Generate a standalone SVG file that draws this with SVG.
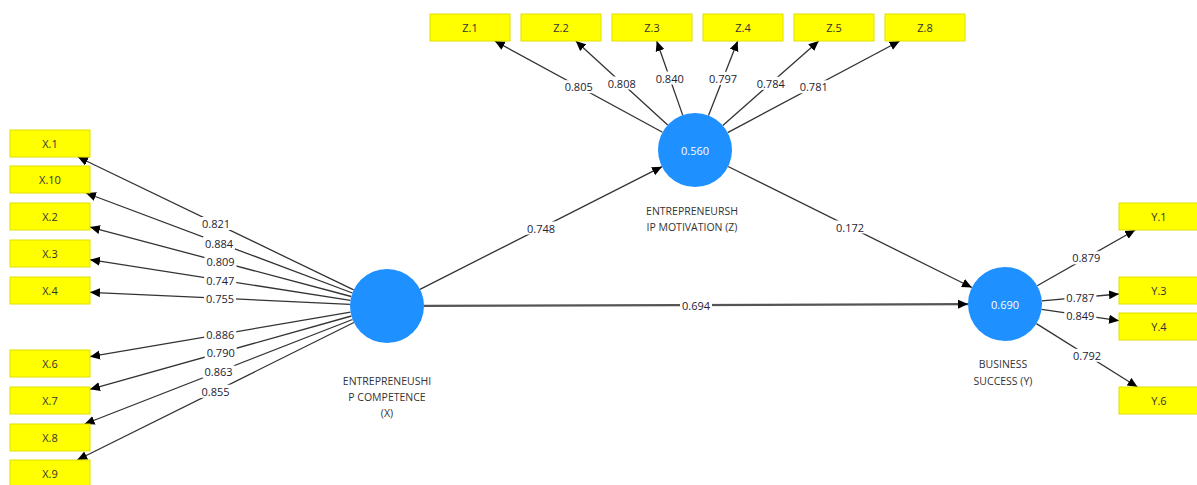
<svg xmlns="http://www.w3.org/2000/svg" width="1197" height="485" viewBox="0 0 1197 485">
<style>
.ln{stroke:#333;stroke-width:1.3;fill:none}
.lnb{stroke:#555;stroke-width:2.2;fill:none}
.box{fill:#ffff00;stroke:#e0e000;stroke-width:1}
.bt{font-family:"Open Sans","Noto Sans",sans-serif;font-size:11px;fill:#333;text-anchor:middle;dominant-baseline:central}
.lv{font-family:"Open Sans","Noto Sans",sans-serif;font-size:11px;fill:#223;text-anchor:middle;dominant-baseline:central}
.lb{fill:#fff}
.cir{fill:#1e90ff}
.cv{font-family:"Open Sans","Noto Sans",sans-serif;font-size:11px;fill:#fff;text-anchor:middle;dominant-baseline:central}
.nl{font-family:"Open Sans","Noto Sans",sans-serif;font-size:10.5px;fill:#333;text-anchor:middle}
</style>
<defs>
<marker id="ah" markerUnits="userSpaceOnUse" markerWidth="11" markerHeight="10" refX="10" refY="5" orient="auto">
<path d="M0,0.5 L10,5 L0,9.5 z" fill="#000"/>
</marker>
</defs>
<rect width="1197" height="485" fill="#fff"/>
<g id="connectors">
<line class="ln" x1="353.7" y1="289.9" x2="78" y2="157" marker-end="url(#ah)"/>
<line class="ln" x1="352.4" y1="293" x2="86" y2="193" marker-end="url(#ah)"/>
<line class="ln" x1="351.2" y1="296.5" x2="90" y2="227.1" marker-end="url(#ah)"/>
<line class="ln" x1="350.4" y1="300.3" x2="90" y2="259.7" marker-end="url(#ah)"/>
<line class="ln" x1="350" y1="304.3" x2="90" y2="292.3" marker-end="url(#ah)"/>
<line class="ln" x1="350.5" y1="312.2" x2="90" y2="356.7" marker-end="url(#ah)"/>
<line class="ln" x1="351.4" y1="316" x2="90" y2="389.3" marker-end="url(#ah)"/>
<line class="ln" x1="352.5" y1="319.5" x2="84.6" y2="424" marker-end="url(#ah)"/>
<line class="ln" x1="353.9" y1="322.5" x2="77.2" y2="460" marker-end="url(#ah)"/>
<line class="ln" x1="662.5" y1="132.3" x2="494.8" y2="41" marker-end="url(#ah)"/>
<line class="ln" x1="667.7" y1="125" x2="575.8" y2="41" marker-end="url(#ah)"/>
<line class="ln" x1="682.7" y1="115.1" x2="656.7" y2="41" marker-end="url(#ah)"/>
<line class="ln" x1="708.5" y1="115.6" x2="737.7" y2="41" marker-end="url(#ah)"/>
<line class="ln" x1="722.8" y1="125.5" x2="818.7" y2="41" marker-end="url(#ah)"/>
<line class="ln" x1="727.7" y1="132.6" x2="899.7" y2="41" marker-end="url(#ah)"/>
<line class="ln" x1="420" y1="289.3" x2="662" y2="166.7" marker-end="url(#ah)"/>
<line class="lnb" x1="424" y1="305.9" x2="968" y2="304.1" marker-end="url(#ah)"/>
<line class="ln" x1="728.1" y1="166.5" x2="971.9" y2="287.5" marker-end="url(#ah)"/>
<line class="ln" x1="1037.2" y1="285.7" x2="1135.2" y2="230" marker-end="url(#ah)"/>
<line class="ln" x1="1041.9" y1="300.8" x2="1119" y2="294" marker-end="url(#ah)"/>
<line class="ln" x1="1041.6" y1="309.4" x2="1119" y2="320.7" marker-end="url(#ah)"/>
<line class="ln" x1="1036.4" y1="323.6" x2="1137.5" y2="387" marker-end="url(#ah)"/>
<g id="labels">
<rect class="lb" x="200" y="217" width="32" height="13"/><text class="lv" x="216" y="223.5">0.821</text>
<rect class="lb" x="203" y="236.5" width="32" height="13"/><text class="lv" x="219" y="243">0.884</text>
<rect class="lb" x="204.5" y="255.3" width="32" height="13"/><text class="lv" x="220.5" y="261.8">0.809</text>
<rect class="lb" x="204.2" y="273.5" width="32" height="13"/><text class="lv" x="220.2" y="280">0.747</text>
<rect class="lb" x="204" y="291.8" width="32" height="13"/><text class="lv" x="220" y="298.3">0.755</text>
<rect class="lb" x="204.2" y="327.9" width="32" height="13"/><text class="lv" x="220.2" y="334.4">0.886</text>
<rect class="lb" x="204.7" y="346.1" width="32" height="13"/><text class="lv" x="220.7" y="352.6">0.790</text>
<rect class="lb" x="202.6" y="365.3" width="32" height="13"/><text class="lv" x="218.6" y="371.8">0.863</text>
<rect class="lb" x="199.5" y="384.8" width="32" height="13"/><text class="lv" x="215.5" y="391.3">0.855</text>
<rect class="lb" x="562.7" y="80.2" width="32" height="13"/><text class="lv" x="578.7" y="86.7">0.805</text>
<rect class="lb" x="605.7" y="76.5" width="32" height="13"/><text class="lv" x="621.7" y="83">0.808</text>
<rect class="lb" x="653.7" y="71.5" width="32" height="13"/><text class="lv" x="669.7" y="78">0.840</text>
<rect class="lb" x="707.1" y="71.8" width="32" height="13"/><text class="lv" x="723.1" y="78.3">0.797</text>
<rect class="lb" x="754.7" y="76.8" width="32" height="13"/><text class="lv" x="770.7" y="83.3">0.784</text>
<rect class="lb" x="797.7" y="80.3" width="32" height="13"/><text class="lv" x="813.7" y="86.8">0.781</text>
<rect class="lb" x="525" y="221.5" width="32" height="13"/><text class="lv" x="541" y="228">0.748</text>
<rect class="lb" x="680" y="298.5" width="32" height="13"/><text class="lv" x="696" y="305">0.694</text>
<rect class="lb" x="834" y="220.5" width="32" height="13"/><text class="lv" x="850" y="227">0.172</text>
<rect class="lb" x="1070.2" y="251.3" width="32" height="13"/><text class="lv" x="1086.2" y="257.8">0.879</text>
<rect class="lb" x="1064.4" y="290.9" width="32" height="13"/><text class="lv" x="1080.4" y="297.4">0.787</text>
<rect class="lb" x="1064.3" y="308.5" width="32" height="13"/><text class="lv" x="1080.3" y="315">0.849</text>
<rect class="lb" x="1071" y="348.8" width="32" height="13"/><text class="lv" x="1087" y="355.3">0.792</text>
</g>
</g>
<g id="X1"><rect class="box" x="10" y="130" width="80" height="27"/><text class="bt" x="50" y="143.5">X.1</text></g>
<g id="X10"><rect class="box" x="10" y="166" width="80" height="27"/><text class="bt" x="50" y="179.5">X.10</text></g>
<g id="X2"><rect class="box" x="10" y="203" width="80" height="27"/><text class="bt" x="50" y="216.5">X.2</text></g>
<g id="X3"><rect class="box" x="10" y="240" width="80" height="27"/><text class="bt" x="50" y="253.5">X.3</text></g>
<g id="X4"><rect class="box" x="10" y="277" width="80" height="27"/><text class="bt" x="50" y="290.5">X.4</text></g>
<g id="X6"><rect class="box" x="10" y="350" width="80" height="27"/><text class="bt" x="50" y="363.5">X.6</text></g>
<g id="X7"><rect class="box" x="10" y="387" width="80" height="27"/><text class="bt" x="50" y="400.5">X.7</text></g>
<g id="X8"><rect class="box" x="10" y="424" width="80" height="27"/><text class="bt" x="50" y="437.5">X.8</text></g>
<g id="X9"><rect class="box" x="10" y="460" width="80" height="27"/><text class="bt" x="50" y="473.5">X.9</text></g>
<g id="Z1"><rect class="box" x="430" y="14" width="80" height="27"/><text class="bt" x="470" y="27.5">Z.1</text></g>
<g id="Z2"><rect class="box" x="521" y="14" width="80" height="27"/><text class="bt" x="561" y="27.5">Z.2</text></g>
<g id="Z3"><rect class="box" x="612" y="14" width="80" height="27"/><text class="bt" x="652" y="27.5">Z.3</text></g>
<g id="Z4"><rect class="box" x="703" y="14" width="80" height="27"/><text class="bt" x="743" y="27.5">Z.4</text></g>
<g id="Z5"><rect class="box" x="794" y="14" width="80" height="27"/><text class="bt" x="834" y="27.5">Z.5</text></g>
<g id="Z8"><rect class="box" x="885" y="14" width="80" height="27"/><text class="bt" x="925" y="27.5">Z.8</text></g>
<g id="Y1"><rect class="box" x="1119" y="203" width="80" height="27"/><text class="bt" x="1159" y="216.5">Y.1</text></g>
<g id="Y3"><rect class="box" x="1119" y="277" width="80" height="27"/><text class="bt" x="1159" y="290.5">Y.3</text></g>
<g id="Y4"><rect class="box" x="1119" y="313" width="80" height="27"/><text class="bt" x="1159" y="326.5">Y.4</text></g>
<g id="Y6"><rect class="box" x="1119" y="387" width="80" height="27"/><text class="bt" x="1159" y="400.5">Y.6</text></g>
<g id="X"><circle class="cir" cx="387" cy="306" r="37"/>
<text class="nl" x="387" y="385">ENTREPRENEUSHI</text><text class="nl" x="387" y="401">P COMPETENCE</text><text class="nl" x="387" y="417">(X)</text></g>
<g id="Z"><circle class="cir" cx="695" cy="150" r="37"/><text class="cv" x="695" y="150">0.560</text>
<text class="nl" x="692" y="215">ENTREPRENEURSH</text><text class="nl" x="692" y="231">IP MOTIVATION (Z)</text></g>
<g id="Y"><circle class="cir" cx="1005" cy="304" r="37"/><text class="cv" x="1005" y="304">0.690</text>
<text class="nl" x="1003" y="368">BUSINESS</text><text class="nl" x="1003" y="385">SUCCESS (Y)</text></g>
</svg>
